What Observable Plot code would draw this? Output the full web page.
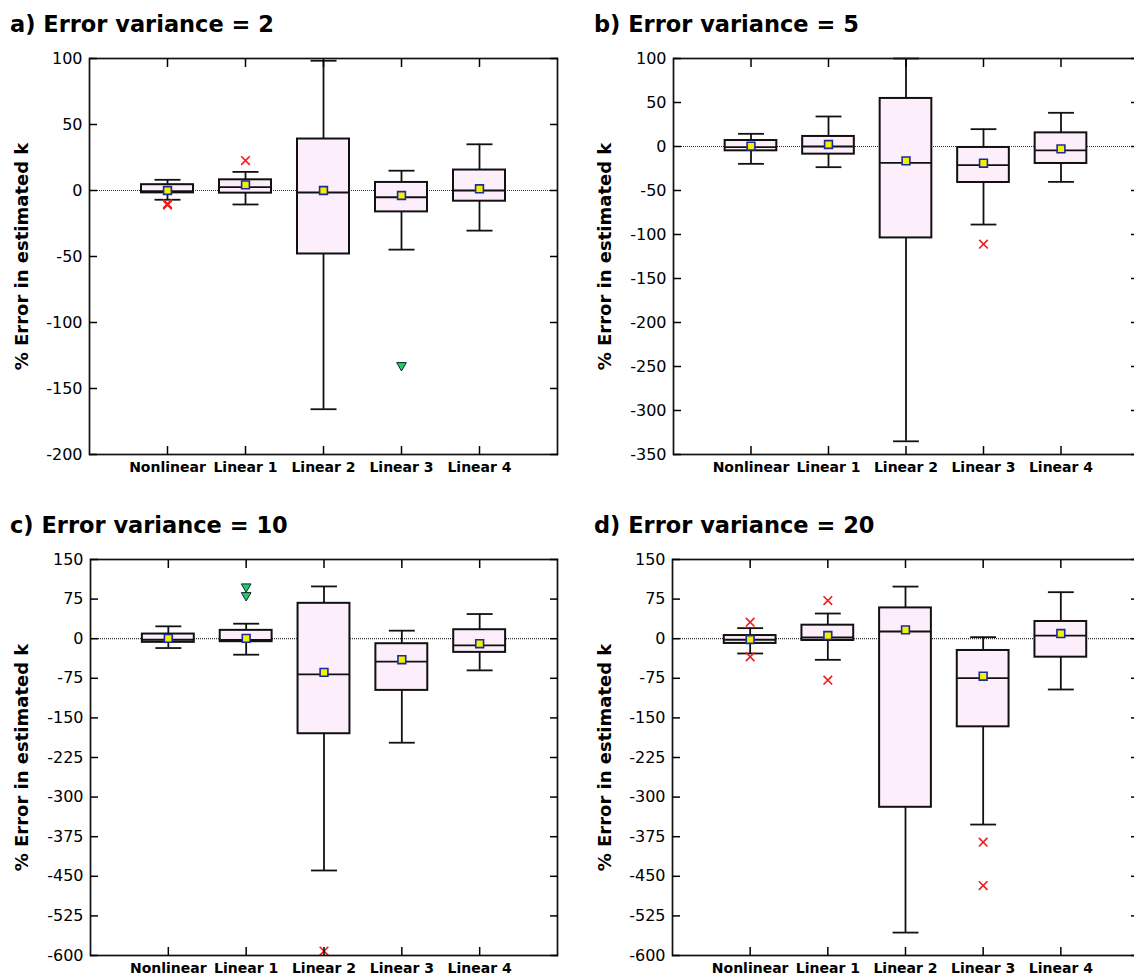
<!DOCTYPE html>
<html><head><meta charset="utf-8">
<script src="https://cdn.jsdelivr.net/npm/d3@7"></script>
<script src="https://cdn.jsdelivr.net/npm/@observablehq/plot@0.6"></script>
<style>
html,body{margin:0;padding:0;background:#fff;overflow:hidden;}
#root{position:relative;width:1134px;height:977px;overflow:hidden;font-family:"DejaVu Sans",sans-serif;}
.panel{position:absolute;}
.panel svg{max-width:none !important;}
.title{position:absolute;font-weight:bold;font-size:22.5px;line-height:22.5px;white-space:nowrap;color:#000;}
</style></head><body><div id="root"></div>
<script>
const categories = ["Nonlinear", "Linear 1", "Linear 2", "Linear 3", "Linear 4"];
const titles = ["a) Error variance = 2", "b) Error variance = 5", "c) Error variance = 10", "d) Error variance = 20"];
const yLabel = "% Error in estimated k";

const ticksA = [100, 50, 0, -50, -100, -150, -200];
const ticksB = [100, 50, 0, -50, -100, -150, -200, -250, -300, -350];
const ticksC = [150, 75, 0, -75, -150, -225, -300, -375, -450, -525, -600];
const ticksD = [150, 75, 0, -75, -150, -225, -300, -375, -450, -525, -600];

// a) Error variance = 2
const lowA  = [-7, -10.6, -165.7, -44.8, -30.4];
const q1A   = [-1.8, -2, -48.1, -16.2, -8.1];
const medA  = [-0.5, 2.5, -1.5, -5.1, 0];
const q3A   = [4.4, 8.1, 39, 6.1, 15.5];
const highA = [8.1, 14.1, 98.3, 15, 35];
const meanA = [0, 4.3, 0, -3.8, 1.3];
const crossCatA = ["Nonlinear", "Nonlinear", "Linear 1"];
const crossValA = [-10, -11, 22.7];
const triCatA = ["Linear 3"];
const triValA = [-132.5];

// b) Error variance = 5
const lowB  = [-19.7, -23.5, -335, -88.7, -40.2];
const q1B   = [-4.9, -8.7, -103.9, -40.9, -19.3];
const medB  = [-0.8, 0, -18.6, -21.2, -4.5];
const q3B   = [6.8, 11.4, 54.6, -1.1, 15.5];
const highB = [14.4, 34.1, 100, 19.7, 38.3];
const meanB = [0.4, 2.3, -16.3, -19, -2.7];
const crossCatB = ["Linear 3"];
const crossValB = [-111];
const triCatB = [];
const triValB = [];

// c) Error variance = 10
const lowC  = [-17.7, -30.3, -439, -197, -60];
const q1C   = [-6.9, -5.7, -180, -97.9, -25.9];
const medC  = [-2, -2.5, -67.5, -43.6, -12.6];
const q3C   = [8.8, 15.8, 67, -9.5, 17];
const highC = [23.4, 28.4, 99, 15.2, 46.7];
const meanC = [0.6, 0.6, -63.8, -39.8, -9.5];
const crossCatC = ["Linear 2"];
const crossValC = [-591.5];
const triCatC = ["Linear 1", "Linear 1"];
const triValC = [98.5, 82];

// d) Error variance = 20
const lowD  = [-28, -40, -556.6, -352, -96.2];
const q1D   = [-9, -3.4, -319.3, -166.9, -35];
const medD  = [-2, 2.3, 13.6, -74.8, 6];
const q3D   = [6, 25.6, 58.3, -22.3, 32.6];
const highD = [20, 47.7, 98.7, 2.9, 88.1];
const meanD = [-1.5, 6, 16.8, -71, 9.8];
const crossCatD = ["Nonlinear", "Nonlinear", "Linear 1", "Linear 1", "Linear 3", "Linear 3"];
const crossValD = [31.3, -34.4, 72.3, -78.5, -385.5, -467.5];
const triCatD = [];
const triValD = [];

function buildPanel(s, L) {
  const rows = categories.map((c, i) => ({pos: i + 1, low: s.low[i], q1: s.q1[i], med: s.med[i], q3: s.q3[i], high: s.high[i], mean: s.mean[i]}));
  const crosses = s.crossCat.map((c, i) => ({pos: categories.indexOf(c) + 1, v: s.crossVal[i]}));
  const tris = s.triCat.map((c, i) => ({pos: categories.indexOf(c) + 1, v: s.triVal[i]}));
  const bw = 1 / 3, cw = 1 / 6;
  const ink = "#111";
  const catTicks = categories.map((c, i) => i + 1);
  return Plot.plot({
    width: L.width, height: 450,
    marginTop: 18, marginBottom: 36, marginLeft: L.marginLeft, marginRight: L.marginRight,
    style: {fontFamily: "DejaVu Sans, sans-serif", color: "#000", background: "transparent", overflow: "visible", maxWidth: "none"},
    x: {type: "linear", domain: [0, 6]},
    y: {type: "linear", domain: [d3.min(s.ticks), d3.max(s.ticks)]},
    marks: [
      Plot.ruleY([0], {stroke: "#333", strokeWidth: 1.2, strokeDasharray: "1,1"}),
      Plot.ruleX(rows, {x: "pos", y1: "low", y2: "q1", stroke: ink, strokeWidth: 1.8}),
      Plot.ruleX(rows, {x: "pos", y1: "q3", y2: "high", stroke: ink, strokeWidth: 1.8}),
      Plot.link(rows, {x1: d => d.pos - cw, x2: d => d.pos + cw, y1: "low", y2: "low", stroke: ink, strokeWidth: 1.8}),
      Plot.link(rows, {x1: d => d.pos - cw, x2: d => d.pos + cw, y1: "high", y2: "high", stroke: ink, strokeWidth: 1.8}),
      Plot.rect(rows, {x1: d => d.pos - bw, x2: d => d.pos + bw, y1: "q1", y2: "q3", fill: "#fdeefc", stroke: ink, strokeWidth: 2}),
      Plot.link(rows, {x1: d => d.pos - bw, x2: d => d.pos + bw, y1: "med", y2: "med", stroke: ink, strokeWidth: 1.8}),
      Plot.dot(crosses, {x: "pos", y: "v", symbol: "times", r: 4, stroke: "#ee1c1c", strokeWidth: 1.6}),
      Plot.dot(tris, {x: "pos", y: "v", symbol: "triangle", rotate: 180, r: 3.6, fill: "#1fd060", stroke: "#123", strokeWidth: 1}),
      Plot.dot(rows, {x: "pos", y: "mean", symbol: "square", r: 4.4, fill: "#f5f000", stroke: "#1a2aa0", strokeWidth: 1.6}),
      Plot.frame({stroke: ink, strokeWidth: 1.7}),
      Plot.axisY({anchor: "left", ticks: s.ticks, tickSize: -8, tickPadding: 15, fontSize: 16, strokeWidth: 1.5, label: null, tickFormat: d => String(d)}),
      Plot.axisY({anchor: "right", ticks: s.ticks, tickSize: -8, strokeWidth: 1.5, tickFormat: () => "", label: null}),
      Plot.axisX({anchor: "bottom", ticks: catTicks, tickSize: -8, tickPadding: 16, fontSize: 14, fontWeight: "bold", strokeWidth: 1.5, label: null, tickFormat: d => categories[d - 1]}),
      Plot.axisX({anchor: "top", ticks: catTicks, tickSize: -8, strokeWidth: 1.5, tickFormat: () => "", label: null}),
      Plot.text([yLabel], {text: d => d, frameAnchor: "left", dx: L.labelDx, rotate: -90, fontSize: 18, fontWeight: "bold", textAnchor: "middle", fill: "#000"})
    ]
  });
}

const series = [
  {low: lowA, q1: q1A, med: medA, q3: q3A, high: highA, mean: meanA, crossCat: crossCatA, crossVal: crossValA, triCat: triCatA, triVal: triValA, ticks: ticksA},
  {low: lowB, q1: q1B, med: medB, q3: q3B, high: highB, mean: meanB, crossCat: crossCatB, crossVal: crossValB, triCat: triCatB, triVal: triValB, ticks: ticksB},
  {low: lowC, q1: q1C, med: medC, q3: q3C, high: highC, mean: meanC, crossCat: crossCatC, crossVal: crossValC, triCat: triCatC, triVal: triValC, ticks: ticksC},
  {low: lowD, q1: q1D, med: medD, q3: q3D, high: highD, mean: meanD, crossCat: crossCatD, crossVal: crossValD, triCat: triCatD, triVal: triValD, ticks: ticksD}
];
const layouts = [
  {left: 0,   top: 40,  width: 567, marginLeft: 89,  marginRight: 10, labelDx: -67, titleLeft: 10,  titleTop: 13},
  {left: 567, top: 40,  width: 574, marginLeft: 106, marginRight: 3,  labelDx: -68, titleLeft: 594, titleTop: 13},
  {left: 0,   top: 541, width: 567, marginLeft: 90,  marginRight: 10, labelDx: -68, titleLeft: 10,  titleTop: 514},
  {left: 567, top: 541, width: 574, marginLeft: 105, marginRight: 3,  labelDx: -67, titleLeft: 594, titleTop: 514}
];

const root = document.getElementById("root");
series.forEach((s, k) => {
  const L = layouts[k];
  const t = document.createElement("div");
  t.className = "title";
  t.style.left = L.titleLeft + "px";
  t.style.top = L.titleTop + "px";
  t.textContent = titles[k];
  root.appendChild(t);
  const wrap = document.createElement("div");
  wrap.className = "panel";
  wrap.style.left = L.left + "px";
  wrap.style.top = L.top + "px";
  wrap.style.width = L.width + "px";
  wrap.style.height = "450px";
  wrap.appendChild(buildPanel(s, L));
  root.appendChild(wrap);
});
</script></body></html>
